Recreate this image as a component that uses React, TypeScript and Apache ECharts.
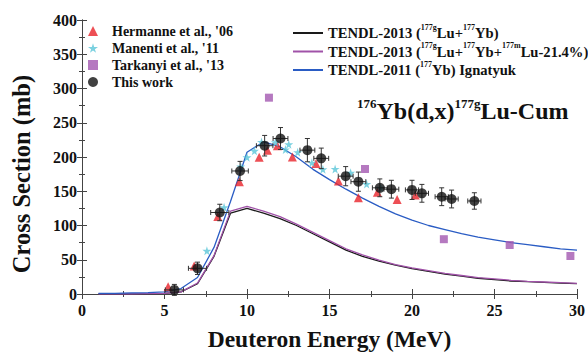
import React, { useEffect, useRef } from "react";
import * as echarts from "echarts";

// ---- data ----
const hermanneX = [5.22, 6.8, 8.23, 9.54, 10.74, 11.24, 11.84, 12.75, 14.18, 15.54, 16.75, 17.9, 19.1, 20.2];
const hermanneY = [10.7, 41, 113, 164, 199.6, 210, 216.5, 200, 190.5, 165, 140.6, 148.4, 138, 144.5];

const manentiX = [7.57, 8.61, 9.62, 10.0, 10.45, 10.88, 11.72, 12.33, 12.53, 13.07, 13.93, 14.6, 15.34, 16.28, 17.25, 18.1];
const manentiY = [63, 126.5, 186, 199.6, 209, 222, 221.5, 211, 218.5, 207, 191.7, 182, 182.5, 177, 160.6, 155];

const tarkanyiX = [11.33, 17.15, 21.93, 25.92, 29.6];
const tarkanyiY = [286.6, 182.5, 80, 71.5, 55.5];

const thisWorkX = [5.6, 7.0, 8.35, 9.58, 11.07, 12.03, 13.66, 14.5, 15.98, 16.75, 18.05, 18.75, 20.0, 20.6, 21.8, 22.4, 23.78];
const thisWorkY = [6, 37.5, 119, 179.6, 216.5, 227, 210, 198, 172, 164, 155, 153, 152, 147, 142, 138.7, 135.8];
const thisWorkXErr = [0.55, 0.55, 0.55, 0.5, 0.5, 0.45, 0.45, 0.45, 0.45, 0.45, 0.45, 0.45, 0.4, 0.4, 0.4, 0.4, 0.4];
const thisWorkYErr = [8, 9, 12, 14, 15, 16, 17, 15, 14, 14, 13, 13, 14, 13, 13, 13, 12];

const energies = [1, 2, 3, 4, 5, 6, 7, 8, 9, 10, 11, 12, 13, 14, 15, 16, 17, 18, 19, 20, 21, 22, 23, 24, 25, 26, 27, 28, 29, 30];
const tendl2013 = [0, 0, 0, 0.5, 1, 3, 15, 55, 118, 125, 118, 110, 100, 88, 76, 64, 55, 48, 42, 37, 33, 29, 26, 23, 21, 19, 18, 17, 16, 15];
const tendl2013m = [0, 0, 0, 0.5, 1, 3, 16, 56, 121, 128, 121, 113, 102, 90, 78, 66, 57, 49.5, 43, 38, 34, 30, 27, 24, 22, 20, 18.5, 17.5, 16.5, 15.5];
const tendl2011 = [1, 1, 1.5, 2, 3, 8, 24, 68, 135, 207, 222, 215, 200, 182, 167, 153, 140, 128, 117, 108, 100, 94, 88, 83, 79, 75, 72, 69, 66, 64];

const xTicks = { min: 0, max: 30, interval: 5 };
const yTicks = { min: 0, max: 400, interval: 50 };

const FONT = "'Liberation Serif', 'Times New Roman', serif";
const STAR = "path://M50,0 L61,35 L98,35 L68,57 L79,91 L50,70 L21,91 L32,57 L2,35 L39,35 Z";

const legendRich: Record<string, string> = {
  "TENDL-2013 (177gLu+177Yb)": "{n|TENDL-2013 (}{s|177g}{n|Lu+}{s|177}{n|Yb)}",
  "TENDL-2013 (177gLu+177Yb+177mLu-21.4%)": "{n|TENDL-2013 (}{s|177g}{n|Lu+}{s|177}{n|Yb+}{s|177m}{n|Lu-21.4%)}",
  "TENDL-2011 (177Yb) Ignatyuk": "{n|TENDL-2011 (}{s|177}{n|Yb) Ignatyuk}",
};

export default function App() {
  const ref = useRef<HTMLDivElement>(null);
  useEffect(() => {
    if (!ref.current) return;
    const chart = echarts.init(ref.current, undefined, { renderer: "svg" });
    const zip = (xs: number[], ys: number[]) => xs.map((x, i) => [x, ys[i]]);
    const axisCommon = {
      axisLine: { show: true, lineStyle: { color: "#444", width: 1 } },
      axisTick: { show: true, inside: true, length: 5, lineStyle: { color: "#444" } },
      minorTick: { show: true, splitNumber: 2, length: 3, lineStyle: { color: "#444" } },
      splitLine: { show: false },
    };
    chart.setOption({
      animation: false,
      backgroundColor: "#fff",
      textStyle: { fontFamily: FONT },
      grid: { left: 82, right: 8, top: 20, bottom: 62 },
      title: {
        text: "{s|176}{b|Yb(d,x)}{s|177g}{b|Lu-Cum}",
        left: 357,
        top: 97,
        padding: 0,
        textStyle: {
          rich: {
            s: { fontSize: 13, fontWeight: "bold", fontFamily: FONT, lineHeight: 14, verticalAlign: "top", color: "#111" },
            b: { fontSize: 24, fontWeight: "bold", fontFamily: FONT, lineHeight: 28, color: "#111" },
          },
        },
      },
      legend: [
        {
          orient: "vertical",
          left: 88,
          top: 24,
          padding: 0,
          itemWidth: 10,
          itemHeight: 10,
          itemGap: 3,
          data: ["Hermanne et al., '06", "Manenti et al., '11", "Tarkanyi et al., '13", "This work"],
          textStyle: { fontFamily: FONT, fontWeight: "bold", fontSize: 14, color: "#111", lineHeight: 14, padding: [0, 0, 0, 9] },
        },
        {
          orient: "vertical",
          left: 293,
          top: 23,
          padding: 0,
          itemWidth: 30,
          itemHeight: 2,
          itemGap: 1,
          icon: "rect",
          data: ["TENDL-2013 (177gLu+177Yb)", "TENDL-2013 (177gLu+177Yb+177mLu-21.4%)", "TENDL-2011 (177Yb) Ignatyuk"],
          formatter: (name: string) => legendRich[name] || name,
          textStyle: {
            rich: {
              n: { fontFamily: FONT, fontWeight: "bold", fontSize: 14.6, lineHeight: 20, color: "#111" },
              s: { fontFamily: FONT, fontWeight: "bold", fontSize: 8, lineHeight: 9, verticalAlign: "top", color: "#111" },
            },
          },
        },
      ],
      xAxis: [
        {
          type: "value",
          ...xTicks,
          ...axisCommon,
          name: "Deuteron Energy (MeV)",
          nameLocation: "middle",
          nameGap: 33,
          nameTextStyle: { fontFamily: FONT, fontWeight: "bold", fontSize: 23.5, color: "#111", verticalAlign: "top" },
          axisLabel: { fontFamily: FONT, fontWeight: "bold", fontSize: 16, color: "#111", margin: 8 },
        },
        {
          type: "value",
          position: "top",
          ...xTicks,
          ...axisCommon,
          axisLabel: { show: false },
        },
      ],
      yAxis: [
        {
          type: "value",
          ...yTicks,
          ...axisCommon,
          name: "Cross Section (mb)",
          nameLocation: "middle",
          nameGap: 48,
          nameTextStyle: { fontFamily: FONT, fontWeight: "bold", fontSize: 24.5, color: "#111", padding: [0, 34, 0, 0] },
          axisLabel: { fontFamily: FONT, fontWeight: "bold", fontSize: 16, color: "#111", margin: 5 },
        },
        {
          type: "value",
          position: "right",
          ...yTicks,
          ...axisCommon,
          axisLabel: { show: false },
        },
      ],
      series: [
        {
          name: "TENDL-2013 (177gLu+177Yb)",
          type: "line",
          data: zip(energies, tendl2013),
          symbol: "none",
          color: "#1a1a1a",
          lineStyle: { width: 1.3, color: "#1a1a1a" },
          z: 1,
        },
        {
          name: "TENDL-2013 (177gLu+177Yb+177mLu-21.4%)",
          type: "line",
          data: zip(energies, tendl2013m),
          symbol: "none",
          color: "#a052a8",
          lineStyle: { width: 1.3, color: "#a052a8" },
          z: 1,
        },
        {
          name: "TENDL-2011 (177Yb) Ignatyuk",
          type: "line",
          data: zip(energies, tendl2011),
          symbol: "none",
          color: "#2a5cc4",
          lineStyle: { width: 1.3, color: "#2a5cc4" },
          z: 1,
        },
        {
          name: "Hermanne et al., '06",
          type: "scatter",
          data: zip(hermanneX, hermanneY),
          symbol: "triangle",
          symbolSize: 9,
          itemStyle: { color: "#e8232a" },
          z: 3,
        },
        {
          name: "Manenti et al., '11",
          type: "scatter",
          data: zip(manentiX, manentiY),
          symbol: STAR,
          symbolSize: 9,
          itemStyle: { color: "#5ac6d8" },
          z: 3,
        },
        {
          name: "Tarkanyi et al., '13",
          type: "scatter",
          data: zip(tarkanyiX, tarkanyiY),
          symbol: "rect",
          symbolSize: 8,
          itemStyle: { color: "#a257b0" },
          z: 3,
        },
        {
          name: "errbars",
          type: "custom",
          data: thisWorkX.map((x, i) => [x, thisWorkY[i], thisWorkXErr[i], thisWorkYErr[i]]),
          z: 4,
          renderItem: (params: any, api: any) => {
            const x = api.value(0), y = api.value(1), xe = api.value(2), ye = api.value(3);
            const l = api.coord([x - xe, y]);
            const r = api.coord([x + xe, y]);
            const t = api.coord([x, y + ye]);
            const b = api.coord([x, y - ye]);
            const st = { stroke: "#333", lineWidth: 1 };
            const cap = 2.5;
            return {
              type: "group",
              children: [
                { type: "line", shape: { x1: l[0], y1: l[1], x2: r[0], y2: r[1] }, style: st },
                { type: "line", shape: { x1: t[0], y1: t[1], x2: b[0], y2: b[1] }, style: st },
                { type: "line", shape: { x1: l[0], y1: l[1] - cap, x2: l[0], y2: l[1] + cap }, style: st },
                { type: "line", shape: { x1: r[0], y1: r[1] - cap, x2: r[0], y2: r[1] + cap }, style: st },
                { type: "line", shape: { x1: t[0] - cap, y1: t[1], x2: t[0] + cap, y2: t[1] }, style: st },
                { type: "line", shape: { x1: b[0] - cap, y1: b[1], x2: b[0] + cap, y2: b[1] }, style: st },
              ],
            };
          },
        },
        {
          name: "This work",
          type: "scatter",
          data: zip(thisWorkX, thisWorkY),
          symbol: "circle",
          symbolSize: 10,
          itemStyle: { color: "#111" },
          z: 5,
        },
      ],
    });
    return () => chart.dispose();
  }, []);
  return <div ref={ref} style={{ width: 588, height: 356, position: "absolute", left: 0, top: 0 }} />;
}
